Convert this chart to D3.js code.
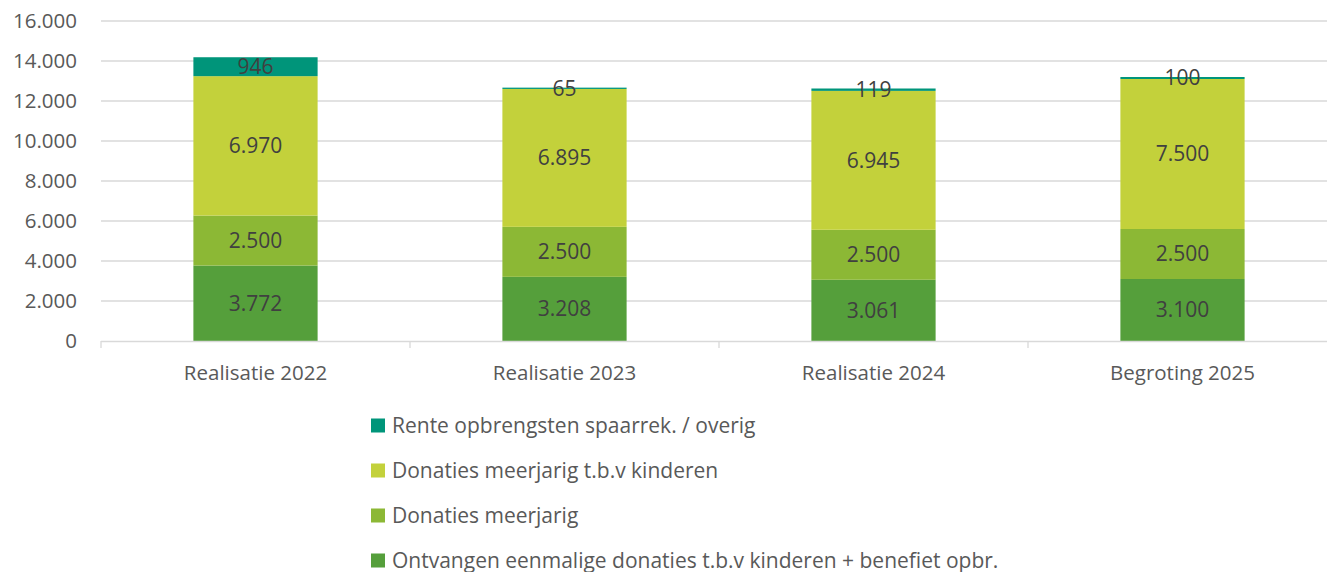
<!DOCTYPE html>
<html><head><meta charset="utf-8">
<script src="https://cdn.jsdelivr.net/npm/d3@7"></script>
<style>body{margin:0;background:#fff;} text{font-family:"Open Sans","Liberation Sans",sans-serif;}</style>
</head><body>
<svg id="c" width="1327" height="572"></svg>
<script>
const categories = ["Realisatie 2022","Realisatie 2023","Realisatie 2024","Begroting 2025"];
const eenmalig = [3772, 3208, 3061, 3100];
const meerjarig = [2500, 2500, 2500, 2500];
const meerjarigKinderen = [6970, 6895, 6945, 7500];
const rente = [946, 65, 119, 100];
const seriesNames = ["Ontvangen eenmalige donaties t.b.v kinderen + benefiet opbr.","Donaties meerjarig","Donaties meerjarig t.b.v kinderen","Rente opbrengsten spaarrek. / overig"];
const colors = ["#559f3b","#8cb835","#c3d13b","#00957a"];
const yTicks = [0,2000,4000,6000,8000,10000,12000,14000,16000];

const svg = d3.select("#c");
const x = d3.scaleBand().domain(categories).range([101,1337]).padding(0);
const y = d3.scaleLinear().domain([0,16000]).range([341,21]);
const fmt = v => d3.format(",")(v).replace(/,/g,".");

svg.append("g").selectAll("line").data(yTicks.slice(1)).join("line")
  .attr("x1",101).attr("x2",1327).attr("y1",d=>y(d)).attr("y2",d=>y(d))
  .attr("stroke","#d9d9d9").attr("stroke-width",1.3);

svg.append("g").selectAll("text").data(yTicks).join("text")
  .attr("x",77).attr("y",d=>y(d)).attr("dy","0.35em").attr("text-anchor","end")
  .attr("font-size",20.5).attr("fill","#595959").text(d=>fmt(d));

const data = categories.map((c,i)=>({cat:c, v:[eenmalig[i],meerjarig[i],meerjarigKinderen[i],rente[i]]}));
const stack = d3.stack().keys([0,1,2,3]).value((d,k)=>d.v[k]);
const layers = stack(data);
const bw = x.bandwidth()*0.402;

layers.forEach((layer,k)=>{
  const g = svg.append("g");
  g.selectAll("rect").data(layer).join("rect")
    .attr("x",d=>x(d.data.cat)+x.bandwidth()/2-bw/2).attr("width",bw)
    .attr("y",d=>y(d[1])).attr("height",d=>y(d[0])-y(d[1]))
    .attr("fill",colors[k]);
  g.selectAll("text").data(layer).join("text")
    .attr("x",d=>x(d.data.cat)+x.bandwidth()/2)
    .attr("y",d=>(y(d[0])+y(d[1]))/2).attr("dy","0.35em")
    .attr("text-anchor","middle").attr("font-size",21).attr("fill","#404040")
    .text(d=>fmt(d[1]-d[0]));
});

svg.append("line").attr("x1",101).attr("x2",1327).attr("y1",341.5).attr("y2",341.5).attr("stroke","#d9d9d9").attr("stroke-width",1.3);
const bounds = categories.map(c=>x(c));
svg.append("g").selectAll("line").data(bounds).join("line")
  .attr("x1",d=>d).attr("x2",d=>d).attr("y1",341).attr("y2",348).attr("stroke","#d9d9d9").attr("stroke-width",1.3);
svg.append("g").selectAll("text").data(categories).join("text")
  .attr("x",d=>x(d)+x.bandwidth()/2).attr("y",373).attr("dy","0.35em")
  .attr("text-anchor","middle").attr("font-size",20.5).attr("fill","#595959").text(d=>d);

const legOrder = [3,2,1,0];
const lg = svg.append("g").selectAll("g").data(legOrder).join("g")
  .attr("transform",(d,i)=>`translate(371,${425.5+i*45})`);
lg.append("rect").attr("x",0).attr("y",-7).attr("width",14).attr("height",14).attr("fill",d=>colors[d]);
lg.append("text").attr("x",21).attr("y",0).attr("dy","0.35em").attr("font-size",21).attr("fill","#595959").text(d=>seriesNames[d]);
</script>
</body></html>
